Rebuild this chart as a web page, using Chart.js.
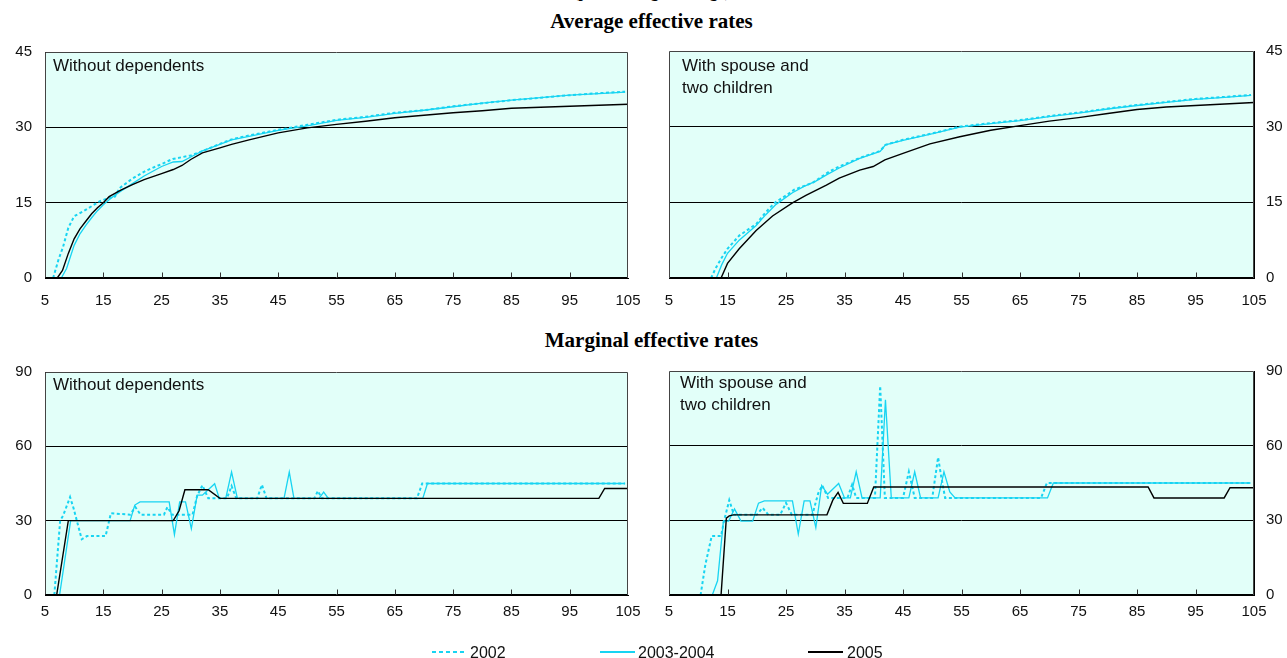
<!DOCTYPE html>
<html>
<head>
<meta charset="utf-8">
<script src="https://cdn.jsdelivr.net/npm/chart.js@4.4.0/dist/chart.umd.min.js"></script>
<style>
html,body{margin:0;padding:0;background:#fff;}
#page{position:relative;width:1287px;height:658px;overflow:hidden;font-family:"Liberation Sans",Arial,sans-serif;color:#111;}
canvas{position:absolute;}
.title{position:absolute;left:8px;width:1287px;text-align:center;font-family:"Liberation Serif","Times New Roman",serif;font-weight:bold;font-size:21px;line-height:21px;color:#000;}
.plabel{position:absolute;font-size:17px;line-height:22px;color:#111;white-space:nowrap;}
.lg{position:absolute;font-size:16px;line-height:16px;color:#111;}
.lgline{position:absolute;height:2px;}
</style>
</head>
<body>
<div id="page">
  <div class="title" style="top:-16px;font-size:16px;line-height:16px;">(percent of gross wage)</div>
  <div class="title" style="top:11px;">Average effective rates</div>
  <div class="title" style="top:330px;">Marginal effective rates</div>

  <canvas id="cTL" width="660" height="290" style="left:0;top:30px;width:660px;height:290px;"></canvas>
  <canvas id="cTR" width="637" height="290" style="left:650px;top:30px;width:637px;height:290px;"></canvas>
  <canvas id="cBL" width="660" height="300" style="left:0;top:350px;width:660px;height:300px;"></canvas>
  <canvas id="cBR" width="637" height="300" style="left:650px;top:350px;width:637px;height:300px;"></canvas>

  <div class="plabel" style="left:53px;top:55px;">Without dependents</div>
  <div class="plabel" style="left:682px;top:55px;">With spouse and<br>two children</div>
  <div class="plabel" style="left:53px;top:374px;">Without dependents</div>
  <div class="plabel" style="left:680px;top:372px;">With spouse and<br>two children</div>

  <div class="lgline" style="left:432px;top:651px;width:34px;background:repeating-linear-gradient(90deg,#17D4F2 0 4px,transparent 4px 7px);"></div>
  <div class="lg" style="left:470px;top:645px;">2002</div>
  <div class="lgline" style="left:600px;top:651px;width:35px;height:1.5px;background:#17D4F2;"></div>
  <div class="lg" style="left:638px;top:645px;">2003-2004</div>
  <div class="lgline" style="left:808px;top:651px;width:35px;height:1.5px;background:#000;"></div>
  <div class="lg" style="left:847px;top:645px;">2005</div>
</div>

<script>
// ---------- DATA ----------
const seriesNames = ['2002', '2003-2004', '2005'];
const xTicks = [5, 15, 25, 35, 45, 55, 65, 75, 85, 95, 105];

// Average effective rates, without dependents
const avgSingleX2002 = [6.4, 7.3, 8.1, 9, 10, 11.6, 13, 14.4, 16.1, 17, 17.8, 20, 22.4, 25, 26.9, 30, 32.1, 35, 37, 40, 45, 50, 55, 60, 65, 70, 75, 80, 85, 90, 95, 100, 104.5];
const avgSingleY2002 = [0, 3.6, 6.2, 10, 12.3, 13.3, 14.3, 15.3, 16, 16.2, 17.9, 19.8, 21.4, 22.7, 23.7, 24.4, 25.3, 26.7, 27.6, 28.4, 29.5, 30.5, 31.5, 32.1, 32.9, 33.4, 34.2, 34.8, 35.4, 35.9, 36.4, 36.8, 37.1];
const avgSingleX2003 = [7.8, 8.7, 10, 11, 12, 13, 14, 15, 16, 17, 18, 20, 22, 25, 27, 28.5, 30, 32, 35, 37, 40, 45, 50, 55, 60, 65, 70, 75, 80, 85, 90, 95, 100, 104.5];
const avgSingleY2003 = [0, 1.9, 6.5, 8.8, 10.5, 12, 13.4, 14.6, 15.6, 16.5, 17.3, 18.8, 20.3, 22.2, 23.1, 23.2, 24.1, 25.3, 26.6, 27.5, 28.2, 29.4, 30.3, 31.4, 32, 32.8, 33.4, 34.1, 34.8, 35.4, 35.9, 36.4, 36.7, 37];
const avgSingleX2005 = [7.1, 8, 9, 10, 11, 12, 13, 14, 15, 16, 18, 20, 22, 25, 27, 28.5, 30, 32, 35, 37, 40, 45, 50, 55, 60, 65, 70, 75, 80, 85, 90, 95, 100, 105];
const avgSingleY2005 = [0, 1.5, 4.9, 7.8, 9.8, 11.3, 12.8, 14, 15, 16.2, 17.5, 18.6, 19.6, 20.8, 21.6, 22.4, 23.6, 24.9, 25.9, 26.6, 27.5, 28.9, 29.9, 30.6, 31.2, 31.9, 32.4, 32.9, 33.3, 33.8, 34, 34.2, 34.4, 34.6];

// Average effective rates, with spouse and two children
const avgFamX2002 = [12.2, 13, 14, 15, 17, 19.9, 21.3, 22.4, 23.3, 25.2, 26.4, 29.6, 32.4, 34.1, 37.6, 41.1, 42, 45, 50.1, 54.7, 60, 65, 70, 75, 80, 85, 90, 95, 100, 104.5];
const avgFamY2002 = [0, 2, 4, 5.8, 8.4, 10.7, 12.7, 14.1, 15.1, 16.5, 17.5, 18.9, 21.1, 22.1, 23.8, 25.2, 26.4, 27.4, 28.7, 30, 30.7, 31.3, 32.1, 32.8, 33.6, 34.3, 34.9, 35.5, 35.9, 36.3];
const avgFamX2003 = [13.1, 14, 15, 17, 19.9, 21.5, 23.3, 26.1, 28, 30.1, 32, 34.1, 37.6, 41.1, 42, 45, 50.1, 54.7, 60, 65, 70, 75, 80, 85, 90, 95, 100, 104.5];
const avgFamY2003 = [0, 2.6, 4.9, 7.5, 10.4, 12.5, 14.6, 16.9, 18.1, 19.2, 20.5, 21.8, 23.7, 25.1, 26.4, 27.3, 28.6, 29.9, 30.6, 31.2, 32, 32.7, 33.5, 34.2, 34.8, 35.4, 35.8, 36.2];
const avgFamX2005 = [13.9, 15, 17, 19.9, 22.7, 26.1, 28.4, 31.9, 34.1, 37.6, 39.9, 41.9, 45, 49.6, 54.7, 60, 65, 70, 75, 80, 85, 90, 95, 100, 105];
const avgFamY2005 = [0, 2.9, 5.8, 9.4, 12.3, 14.9, 16.4, 18.4, 19.8, 21.4, 22.1, 23.4, 24.7, 26.6, 28, 29.3, 30.2, 31.1, 31.8, 32.6, 33.4, 33.9, 34.2, 34.5, 34.8];

// Marginal effective rates, without dependents
const margSingleX2002 = [6.6, 7.6, 8.1, 9.3, 9.9, 11.3, 12.2, 15.4, 16.3, 19.6, 20.5, 21.4, 25.4, 26, 26.8, 30.3, 31.1, 32, 33, 36.2, 37, 37.8, 41.4, 42.2, 43, 51.2, 51.8, 52.5, 68.8, 69.7, 104.5];
const margSingleY2002 = [0, 30, 32, 39.5, 35, 22.5, 23.8, 23.8, 33, 32.4, 35.5, 32.4, 32.4, 35.5, 32.4, 32.4, 40, 44.3, 39, 39, 44, 39, 39, 44.5, 39, 39, 42, 39, 39, 45, 45];
const margSingleX2003 = [7.5, 9.4, 19.6, 20.4, 21.3, 26.3, 27.2, 28.1, 29.1, 30.1, 31.1, 32, 34.1, 34.9, 36, 37, 38, 46, 46.9, 47.7, 52, 52.8, 53.6, 69.8, 70.6, 104.5];
const margSingleY2003 = [0, 30, 30, 36.3, 37.6, 37.6, 24.4, 37.6, 37.6, 26.8, 40.3, 40.3, 44.9, 39, 39, 49.6, 39, 39, 49.6, 39, 39, 41.5, 39, 39, 45, 45];
const margSingleX2005 = [7, 9, 27, 28, 29, 33, 35, 100, 101, 105];
const margSingleY2005 = [0, 30, 30, 34, 42.5, 42.5, 39, 39, 43, 43];

// Marginal effective rates, with spouse and two children
const margFamX2002 = [10.4, 11.2, 12.3, 13.9, 14.4, 15.3, 16.1, 20, 21, 22, 24, 25, 26, 29.5, 30.5, 31.2, 32.2, 35.5, 36.3, 37, 40.2, 41.1, 41.9, 45, 46, 47, 50, 51, 51.5, 52.2, 68.6, 69.6, 104.4];
const margFamY2002 = [0, 12, 23.7, 23.7, 29.7, 38.1, 32.2, 32.2, 35, 32.2, 32.2, 37, 32.2, 32.2, 40.8, 44, 39, 39, 44.3, 39, 39, 84, 39, 39, 49.5, 39, 39, 55.3, 48, 39, 39, 45, 45];
const margFamX2003 = [12.4, 13.3, 14.3, 15.2, 16.2, 17.3, 19.3, 20.3, 21.3, 26.1, 27.1, 28.1, 29.1, 30.1, 31.1, 32.1, 34, 35, 36, 37, 38, 41.1, 42, 43, 46, 47, 48, 51, 52, 53, 53.9, 69.7, 70.7, 104.4];
const margFamY2003 = [0, 5.7, 29.7, 29.7, 34.6, 29.7, 29.7, 36.9, 37.8, 37.8, 24.5, 37.8, 37.8, 27.1, 44, 40.5, 44.8, 39, 39, 49.5, 39, 39, 78.4, 39, 39, 49.5, 39, 39, 49.5, 41.4, 39, 39, 45, 45];
const margFamX2005 = [13.9, 14.8, 15.3, 16, 32, 33, 33.9, 34.8, 38.9, 40, 86.9, 87.9, 99.9, 100.9, 105];
const margFamY2005 = [0, 30.9, 31.8, 32.2, 32.2, 38.1, 41.2, 36.8, 36.8, 43.4, 43.4, 39, 39, 43.1, 43.1];

// ---------- STYLE ----------
const CYAN = '#17D4F2';
const PLOT_BG = '#E2FFF9';
Chart.defaults.font.family = '"Liberation Sans", Arial, sans-serif';
Chart.defaults.font.size = 15;
Chart.defaults.color = '#111';

const pts = (xs, ys) => xs.map((x, i) => ({ x: x, y: ys[i] }));

function makeDatasets(x02, y02, x03, y03, x05, y05) {
  return [
    { label: seriesNames[2], data: pts(x05, y05), borderColor: '#000', borderWidth: 1.4, pointRadius: 0, tension: 0, fill: false },
    { label: seriesNames[1], data: pts(x03, y03), borderColor: CYAN, borderWidth: 1.3, pointRadius: 0, tension: 0, fill: false },
    { label: seriesNames[0], data: pts(x02, y02), borderColor: CYAN, borderWidth: 2, borderDash: [3, 2.5], pointRadius: 0, tension: 0, fill: false }
  ];
}

const panelDeco = {
  id: 'panelDeco',
  beforeDraw(chart) {
    const { ctx, chartArea: a } = chart;
    ctx.save();
    ctx.fillStyle = PLOT_BG;
    ctx.fillRect(a.left, a.top, a.right - a.left, a.bottom - a.top);
    ctx.restore();
  },
  afterDraw(chart) {
    const { ctx, chartArea: a } = chart;
    const xs = chart.scales.x;
    ctx.save();
    ctx.lineWidth = 1;
    ctx.strokeStyle = '#444';
    const l = Math.round(a.left) + 0.5, t = Math.round(a.top) + 0.5;
    const r = Math.round(a.right) - 0.5, b = Math.round(a.bottom) - 0.5;
    ctx.beginPath();
    ctx.moveTo(l, b); ctx.lineTo(l, t); ctx.lineTo(r, t); ctx.lineTo(r, b);
    ctx.stroke();
    ctx.strokeStyle = '#000';
    ctx.beginPath();
    ctx.moveTo(l, b); ctx.lineTo(r, b);
    ctx.stroke();
    ctx.strokeStyle = '#333';
    ctx.beginPath();
    xs.ticks.forEach(tk => {
      if (tk.value <= xs.min || tk.value >= xs.max) return;
      const px = Math.round(xs.getPixelForValue(tk.value)) + 0.5;
      ctx.moveTo(px, b); ctx.lineTo(px, b - 5);
    });
    ctx.stroke();
    ctx.restore();
  }
};

function makeChart(id, opts) {
  const ctxEl = document.getElementById(id);
  const innerGrid = opts.gridValues;
  return new Chart(ctxEl, {
    type: 'line',
    data: { datasets: makeDatasets(...opts.data) },
    plugins: [panelDeco],
    options: {
      responsive: false,
      animation: false,
      devicePixelRatio: 1,
      layout: { padding: opts.padding },
      plugins: { legend: { display: false }, tooltip: { enabled: false }, title: { display: false } },
      scales: {
        x: {
          type: 'linear', min: 5, max: 105,
          afterBuildTicks: s => { s.ticks = xTicks.map(v => ({ value: v })); },
          ticks: { stepSize: 10, autoSkip: false, maxRotation: 0, padding: opts.xPad, color: '#111', font: { size: 15 } },
          grid: { drawOnChartArea: false, drawTicks: false },
          border: { display: true, color: '#000', width: 1 },
          afterFit: s => { s.height = opts.xHeight; }
        },
        y: {
          position: opts.yPos, min: 0, max: opts.yMax,
          afterBuildTicks: s => { s.ticks = opts.yTicks.map(v => ({ value: v })); },
          ticks: { stepSize: opts.yMax / 3, autoSkip: false, padding: opts.yPad, color: '#111', font: { size: 15 } },
          grid: {
            drawTicks: false,
            color: c => (c.tick && innerGrid.indexOf(c.tick.value) >= 0) ? '#000' : 'rgba(0,0,0,0)',
            lineWidth: 1
          },
          border: { display: true, color: '#000', width: 1 },
          afterFit: s => { s.width = opts.yWidth; }
        }
      }
    }
  });
}

const avgTicks = [0, 15, 30, 45];
const margTicks = [0, 30, 60, 90];

makeChart('cTL', {
  data: [avgSingleX2002, avgSingleY2002, avgSingleX2003, avgSingleY2003, avgSingleX2005, avgSingleY2005],
  padding: { left: 0, right: 32, top: 17, bottom: 0 },
  xPad: 14, xHeight: 42, yPos: 'left', yWidth: 45, yPad: 13, yMax: 45, yTicks: avgTicks, gridValues: [15, 30]
});
makeChart('cTR', {
  data: [avgFamX2002, avgFamY2002, avgFamX2003, avgFamY2003, avgFamX2005, avgFamY2005],
  padding: { left: 19, right: 0, top: 17, bottom: 0 },
  xPad: 14, xHeight: 42, yPos: 'right', yWidth: 33, yPad: 12, yMax: 45, yTicks: avgTicks, gridValues: [15, 30]
});
makeChart('cBL', {
  data: [margSingleX2002, margSingleY2002, margSingleX2003, margSingleY2003, margSingleX2005, margSingleY2005],
  padding: { left: 0, right: 32, top: 16, bottom: 0 },
  xPad: 8, xHeight: 55, yPos: 'left', yWidth: 45, yPad: 13, yMax: 90, yTicks: margTicks, gridValues: [30, 60]
});
makeChart('cBR', {
  data: [margFamX2002, margFamY2002, margFamX2003, margFamY2003, margFamX2005, margFamY2005],
  padding: { left: 19, right: 0, top: 16, bottom: 0 },
  xPad: 8, xHeight: 55, yPos: 'right', yWidth: 33, yPad: 12, yMax: 90, yTicks: margTicks, gridValues: [30, 60]
});
</script>
</body>
</html>
